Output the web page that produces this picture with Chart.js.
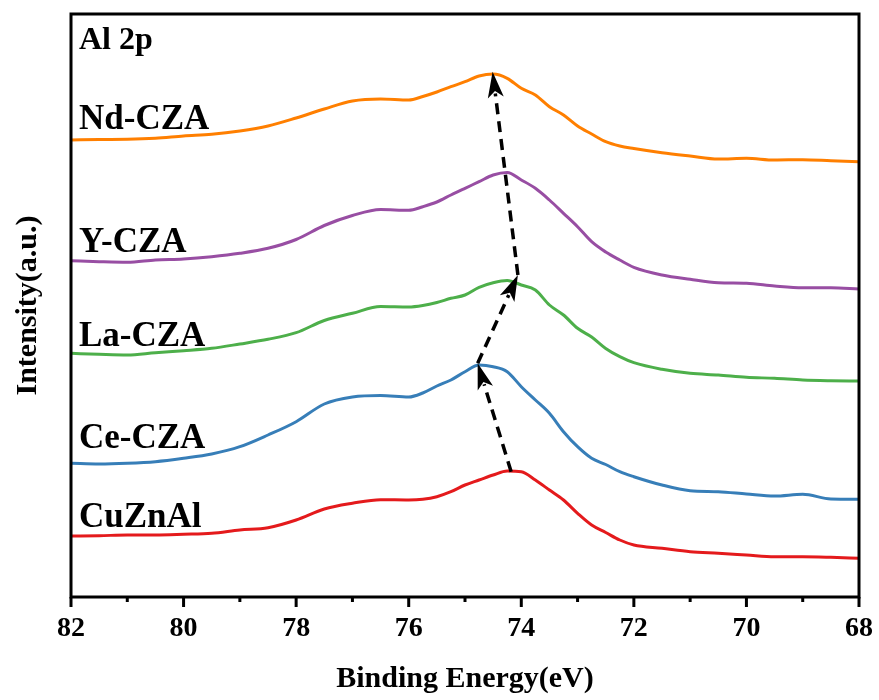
<!DOCTYPE html>
<html>
<head>
<meta charset="utf-8">
<script src="https://cdn.jsdelivr.net/npm/chart.js@4.4.1/dist/chart.umd.min.js"></script>
<style>
  html, body { margin: 0; padding: 0; background: #fff; }
  #wrap { width: 879px; height: 700px; position: relative; }
</style>
</head>
<body>
<div id="wrap"><canvas id="c" width="879" height="700"></canvas></div>
<script>
// Binding energy (eV)
const energies = [82, 81.5, 81, 80.5, 80, 79.5, 79, 78.5, 78, 77.5, 77, 76.5, 76, 75.75, 75.5, 75.25, 75, 74.75, 74.5, 74.25, 74, 73.75, 73.5, 73.25, 73, 72.75, 72.5, 72.25, 72, 71.5, 71, 70.5, 70, 69.5, 69, 68.5, 68];

// Intensity (a.u., stacked/offset as in the figure)
const ndCZA = [457, 457.5, 457.7, 458.7, 461, 462.7, 466, 471, 479, 488, 496, 498, 497, 500.5, 505, 510.3, 515.3, 521, 523, 518.7, 508.7, 502, 490.3, 482, 471, 463, 455.3, 451, 448.5, 444.3, 441, 438, 438.7, 437, 437.3, 436.3, 435.3];
const yCZA  = [336.3, 335.3, 334.7, 337, 338, 340.3, 343.7, 348.7, 357.5, 371.5, 381.5, 387.5, 386.7, 390.3, 395, 402, 408.7, 415.3, 422, 424.5, 417, 408.7, 397, 383.7, 370.3, 355.3, 345, 337, 329.7, 322, 317.7, 314.3, 313.7, 311, 309.3, 309.3, 308];
const laCZA = [243.7, 242.7, 242, 244.3, 246.3, 248.7, 253, 257.7, 264.3, 276.5, 283.7, 290.5, 290, 291.5, 294.5, 298.7, 302, 309.7, 314.3, 316.5, 312, 307, 292, 282, 268.7, 260, 248.5, 240.3, 234.3, 227.7, 223.7, 222, 219.7, 218.7, 217, 216.3, 216];
const ceCZA = [133.7, 133, 133.7, 135.3, 138.7, 143, 150.3, 162, 175.3, 193, 200, 201.5, 200, 204, 211, 217, 225.3, 232, 230.3, 225.3, 210.3, 197, 183.7, 165.3, 150.3, 138.7, 132.5, 125.3, 120.3, 112, 106.3, 105.3, 103, 101, 102.7, 98, 97.7];
const cuZnAl = [61, 61.3, 62, 62, 62.7, 63.7, 67, 69.3, 77, 88, 93.7, 97.3, 97, 97.7, 100.3, 105.3, 112, 117, 122, 126, 125.3, 117, 107, 97, 83.7, 72, 64.5, 57, 52, 48.7, 45.3, 43.7, 42, 40.3, 40.3, 39.7, 38.7];

const seriesNames = ['Nd-CZA', 'Y-CZA', 'La-CZA', 'Ce-CZA', 'CuZnAl'];
const seriesColors = ['#FF7F00', '#984EA3', '#4DAF4A', '#377EB8', '#E41A1C'];
const seriesValues = [ndCZA, yCZA, laCZA, ceCZA, cuZnAl];

// x tick labels
const xTicks = [82, 80, 78, 76, 74, 72, 70, 68];

// Text annotations (intensity of each label's baseline)
const labelTexts = ['Nd-CZA', 'Y-CZA', 'La-CZA', 'Ce-CZA', 'CuZnAl'];
const labelY = [468, 345.3, 251, 148.7, 70.3];
const panelTitle = 'Al 2p';

// Peak-shift arrows (from peak to peak): [energy, intensity]
const arrowFrom = [[74.18, 125.3], [74.775, 233.7], [74.06, 322]];
const arrowTo   = [[74.775, 233.7], [74.06, 322], [74.51, 525.3]];

const FONT = "'Liberation Serif', 'Times New Roman', serif";

const datasets = seriesNames.map((name, i) => ({
  label: name,
  data: energies.map((e, k) => ({ x: e, y: seriesValues[i][k] })),
  borderColor: seriesColors[i],
  backgroundColor: seriesColors[i],
  borderWidth: 3,
  pointRadius: 0,
  cubicInterpolationMode: 'monotone',
  fill: false
}));

const framePlugin = {
  id: 'frame',
  afterDatasetsDraw(chart) {
    const { ctx, chartArea: a, scales: { x, y } } = chart;
    ctx.save();
    ctx.strokeStyle = '#000';
    ctx.lineWidth = 3;
    for (let v = 68; v <= 82; v++) {
      const px = x.getPixelForValue(v);
      const len = (v % 2 === 0) ? 10 : 5;
      ctx.beginPath();
      ctx.moveTo(px, a.bottom);
      ctx.lineTo(px, a.bottom + len);
      ctx.stroke();
    }
    ctx.lineWidth = 3;
    ctx.strokeRect(a.left, a.top, a.right - a.left, a.bottom - a.top);

    for (let i = 0; i < arrowFrom.length; i++) {
      const x0 = x.getPixelForValue(arrowFrom[i][0]);
      const y0 = y.getPixelForValue(arrowFrom[i][1]);
      const x1 = x.getPixelForValue(arrowTo[i][0]);
      const y1 = y.getPixelForValue(arrowTo[i][1]);
      const ang = Math.atan2(y1 - y0, x1 - x0);
      const headLen = 26, headW = 8;
      const bx = x1 - Math.cos(ang) * (headLen - 4);
      const by = y1 - Math.sin(ang) * (headLen - 4);
      ctx.setLineDash([11, 7]);
      ctx.lineWidth = 3.5;
      ctx.strokeStyle = '#000';
      ctx.beginPath();
      ctx.moveTo(x0, y0);
      ctx.lineTo(bx, by);
      ctx.stroke();
      ctx.setLineDash([]);
      const hx = x1 - Math.cos(ang) * headLen;
      const hy = y1 - Math.sin(ang) * headLen;
      const nx = -Math.sin(ang), ny = Math.cos(ang);
      const cx = x1 - Math.cos(ang) * (headLen * 0.75);
      const cy = y1 - Math.sin(ang) * (headLen * 0.75);
      ctx.fillStyle = '#000';
      ctx.beginPath();
      ctx.moveTo(x1, y1);
      ctx.lineTo(hx + nx * headW, hy + ny * headW);
      ctx.lineTo(cx, cy);
      ctx.lineTo(hx - nx * headW, hy - ny * headW);
      ctx.closePath();
      ctx.fill();
    }

    ctx.fillStyle = '#000';
    ctx.textAlign = 'left';
    ctx.textBaseline = 'alphabetic';
    const lx = a.left + 8;
    ctx.font = "bold 35px " + FONT;
    for (let i = 0; i < labelTexts.length; i++) {
      ctx.fillText(labelTexts[i], lx, y.getPixelForValue(labelY[i]));
    }
    ctx.font = "bold 32px " + FONT;
    ctx.fillText(panelTitle, lx, y.getPixelForValue(548));
    ctx.restore();
  }
};

new Chart(document.getElementById('c'), {
  type: 'line',
  data: { datasets },
  options: {
    responsive: false,
    animation: false,
    events: [],
    layout: { padding: { top: 14, right: 20, left: 0, bottom: 0 } },
    plugins: { legend: { display: false }, tooltip: { enabled: false } },
    scales: {
      x: {
        type: 'linear',
        reverse: true,
        min: 68,
        max: 82,
        afterBuildTicks(axis) { axis.ticks = xTicks.map(v => ({ value: v })); },
        afterFit(axis) { axis.height = 103; axis.paddingLeft = 0; axis.paddingRight = 0; },
        grid: { display: false, drawTicks: false },
        border: { display: false },
        ticks: {
          padding: 15,
          color: '#000',
          maxRotation: 0,
          font: { family: FONT, weight: 'bold', size: 28 }
        },
        title: {
          display: true,
          text: 'Binding Energy(eV)',
          color: '#000',
          padding: { top: 0, bottom: 3 },
          font: { family: FONT, weight: 'bold', size: 30 }
        }
      },
      y: {
        min: 0,
        max: 583,
        afterFit(axis) { axis.width = 71; },
        grid: { display: false, drawTicks: false },
        border: { display: false },
        ticks: { display: false },
        title: {
          display: true,
          text: 'Intensity(a.u.)',
          color: '#000',
          padding: { top: 10, bottom: 0 },
          font: { family: FONT, weight: 'bold', size: 30 }
        }
      }
    }
  },
  plugins: [framePlugin]
});
</script>
</body>
</html>
